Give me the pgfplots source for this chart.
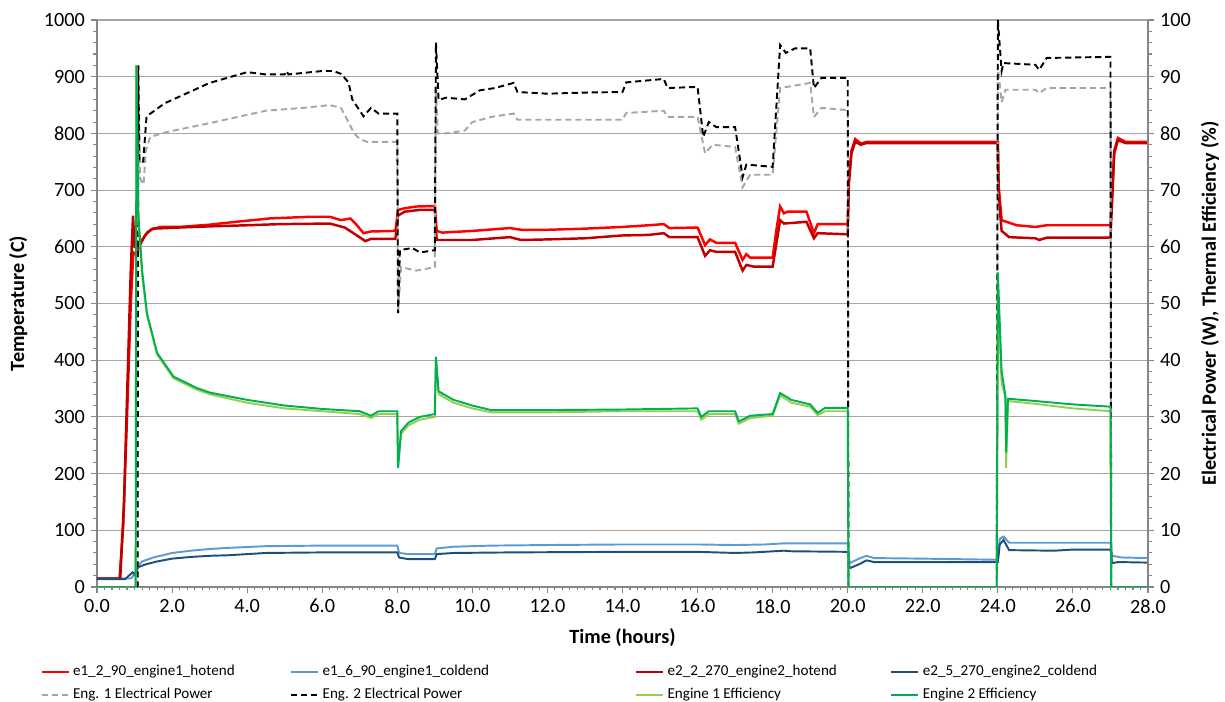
\documentclass[border=0pt]{standalone}
\usepackage{fontspec}
\setmainfont{Carlito}
\usepackage{pgfplots}
\pgfplotsset{compat=1.18}

\definecolor{hotA}{HTML}{FF0000}
\definecolor{hotB}{HTML}{C00000}
\definecolor{coldA}{HTML}{5B9BD5}
\definecolor{coldB}{HTML}{1F4E79}
\definecolor{powA}{HTML}{A6A6A6}
\definecolor{effA}{HTML}{92D050}
\definecolor{effB}{HTML}{00B050}
\definecolor{axgray}{HTML}{868686}
\definecolor{gridgray}{HTML}{A6A6A6}

\pgfplotsset{
  base/.style={
    at={(0,0)}, anchor=south west,
    scale only axis, width=21.02cm, height=11.34cm,
    xmin=0, xmax=28,
    tick align=outside,
    major tick length=0.12cm, minor tick length=0.07cm,
    axis line style={axgray, line width=0.6pt},
    tick style={axgray, line width=0.6pt},
    ticklabel style={font=\fontsize{11.5}{13}\selectfont},
    label style={font=\bfseries\fontsize{11.5}{13}\selectfont},
    /pgf/number format/assume math mode=true,
    /pgf/number format/1000 sep={},
  },
}

\begin{document}
\begin{tikzpicture}
% temperatures, left axis
\begin{axis}[base,
  axis x line*=bottom, axis y line*=left,
  ymin=0, ymax=1000,
  xtick={0,2,4,6,8,10,12,14,16,18,20,22,24,26,28}, minor x tick num=9,
  ytick={0,100,200,300,400,500,600,700,800,900,1000}, minor y tick num=4,
  xticklabel style={/pgf/number format/.cd, fixed, fixed zerofill, precision=1},
  ymajorgrids, major grid style={gridgray, line width=0.6pt},
  xlabel={Time (hours)}, ylabel={Temperature (C)},
  xlabel style={at={(axis description cs:0.5,-0.09)}, anchor=center},
  ylabel style={at={(axis description cs:-0.075,0.5)}, anchor=center},
]
\addplot[hotA, line width=1.4pt] coordinates {
(0,15)(0.6,15)(0.7,110)(0.8,300)(0.9,500)(0.97,590)(1.05,585)(1.15,604)(1.3,622)(1.45,631)
(1.7,635)(2.2,635)(3.0,639)(3.55,643)(4.6,650)(5.7,653)(6.2,653)(6.5,647)(6.75,650)(6.9,640)
(7.1,624)(7.3,627)(7.95,628)(8.02,665)(8.2,668)(8.5,671)(9.0,672)(9.05,628)(9.2,625)(10.0,628)
(11.0,633)(11.3,630)(12.0,630)(13.0,632)(14.0,635)(14.7,638)(15.1,640)(15.25,633)(16.0,634)
(16.2,603)(16.33,613)(16.5,607)(17.0,607)(17.2,577)(17.3,587)(17.4,581)(18.0,581)(18.1,630)
(18.2,671)(18.3,659)(18.4,662)(18.9,662)(19.1,624)(19.2,640)(20.0,640)(20.03,720)(20.1,770)
(20.2,790)(20.35,782)(20.5,785)(24.0,785)(24.02,709)(24.1,647)(24.5,638)(25.0,635)(25.3,638)
(27.0,638)(27.05,700)(27.1,770)(27.2,792)(27.4,785)(28.0,785)};
\addplot[coldA, line width=1.1pt] coordinates {
(0,15)(0.9,15)(1.0,22)(1.1,38)(1.2,45)(1.5,52)(2.0,60)(2.5,64)(3.0,67)(3.5,69)(4.5,72)(6,73)
(8.0,73)(8.05,60)(8.3,58)(9.0,58)(9.05,68)(9.5,71)(10.5,73)(12,74)(14,75)(16,75)(17,74)
(17.8,75)(18.3,77)(20.0,77)(20.05,42)(20.3,50)(20.5,55)(20.7,51)(22,50)(24.0,48)(24.05,85)
(24.15,89)(24.3,78)(27.0,78)(27.05,55)(27.3,52)(28,51)};
\addplot[hotB, line width=1.4pt] coordinates {
(0,15)(0.62,15)(0.72,150)(0.82,380)(0.9,560)(0.96,655)(1.0,600)(1.1,598)(1.2,612)(1.35,626)
(1.5,632)(2.2,634)(3.0,636)(4.0,638)(4.9,640)(6.2,641)(6.6,634)(6.9,621)(7.15,610)(7.3,614)
(7.95,614)(8.02,655)(8.2,662)(8.6,665)(9.0,665)(9.05,612)(10,612)(11,617)(11.3,612)(12,613)
(13,615)(14,620)(14.7,621)(15.1,624)(15.25,617)(16,617)(16.2,584)(16.33,594)(16.5,591)
(17.0,591)(17.2,558)(17.3,568)(17.5,565)(18.0,565)(18.2,647)(18.3,641)(18.9,644)(19.1,615)
(19.2,624)(20.0,622)(20.03,710)(20.1,765)(20.2,785)(20.35,780)(20.5,783)(24.0,783)(24.02,690)
(24.1,628)(24.3,617)(25.0,615)(25.1,612)(25.3,616)(27.0,616)(27.05,690)(27.1,765)(27.2,788)
(27.4,783)(28,783)};
\addplot[coldB, line width=1.1pt] coordinates {
(0,14)(0.75,14)(0.95,26)(1.0,22)(1.1,35)(1.3,40)(1.6,45)(2.0,50)(2.5,53)(3.0,55)(3.5,56)
(4.5,60)(6,61)(8,61)(8.05,52)(8.3,49)(9,49)(9.05,58)(9.5,60)(11,61)(14,62)(16,62)(17.0,60)
(17.5,61)(18.3,64)(18.5,63)(20.0,62)(20.05,33)(20.3,40)(20.5,47)(20.7,44)(24.0,44)(24.05,75)
(24.15,83)(24.3,65)(25.5,64)(26,66)(27,66)(27.05,42)(27.2,44)(28,43)};
\end{axis}
% power and efficiency, right axis
\begin{axis}[base,
  axis x line=none, axis y line*=right,
  ymin=0, ymax=100,
  ytick={0,10,20,30,40,50,60,70,80,90,100}, minor y tick num=4,
  ylabel={Electrical Power (W), Thermal Efficiency (\%)},
  ylabel style={at={(axis description cs:1.059,0.5)}, anchor=center},
  legend columns=4,
  legend cell align=left,
  legend image code/.code={\draw[#1] (0cm,0cm) -- (0.54cm,0cm);},
  legend style={at={(axis description cs:-0.059,-0.125)}, anchor=north west,
    draw=none, fill=none, font=\fontsize{8.6}{10}\selectfont,
    /tikz/column 2/.style={column sep=1.04cm},
    /tikz/column 4/.style={column sep=2.85cm},
    /tikz/column 6/.style={column sep=1.0cm},
    row sep=1.5pt},
]
\addlegendimage{hotA, line width=1.1pt}
\addlegendentry{e1\_2\_90\_engine1\_hotend}
\addlegendimage{coldA, line width=1.1pt}
\addlegendentry{e1\_6\_90\_engine1\_coldend}
\addlegendimage{hotB, line width=1.1pt}
\addlegendentry{e2\_2\_270\_engine2\_hotend}
\addlegendimage{coldB, line width=1.1pt}
\addlegendentry{e2\_5\_270\_engine2\_coldend}
\addplot[powA, line width=1.1pt, dash pattern=on 3.5pt off 2.2pt] coordinates {
(0,0)(1.08,0)(1.1,90)(1.15,72)(1.24,71)(1.3,77)(1.42,79.4)(1.9,80.3)(3.0,81.8)(4.5,84)
(5.5,84.5)(6.2,85)(6.5,84.5)(6.7,82)(6.85,80)(7.0,79)(7.2,78.5)(8.0,78.5)(8.02,48)(8.1,56.4)
(8.5,55.8)(9.0,56.4)(9.03,88)(9.08,80)(9.3,80)(9.8,80.5)(10.0,82)(10.5,82.9)(11.1,83.5)
(11.2,82.4)(14,82.4)(14.1,83.6)(15.1,84)(15.2,82.9)(16,82.9)(16.2,76.5)(16.4,78)(17.0,77.6)
(17.2,70.5)(17.4,72.7)(18.0,72.7)(18.2,88.0)(19.0,88.9)(19.1,82.9)(19.3,84.5)(20.0,84.1)
(20.02,0)(23.97,0)(24.0,92)(24.1,85.5)(24.2,87.7)(25.0,87.7)(25.1,87.1)(25.3,88)(27.0,88)
(27.02,0)(28,0)};
\addlegendentry{Eng. 1 Electrical Power}
\addplot[black, line width=1.1pt, dash pattern=on 3.5pt off 2.2pt] coordinates {
(0,0)(1.08,0)(1.1,92)(1.13,75)(1.23,75)(1.32,83)(1.8,85.3)(3.0,88.9)(4.0,90.8)(4.5,90.4)
(5.0,90.4)(5.05,91)(5.1,90.4)(6.0,91)(6.3,91)(6.5,90.5)(6.7,89)(6.8,86)(7.0,84)(7.1,83)
(7.3,84.5)(7.5,83.5)(8.0,83.5)(8.02,48.3)(8.07,59.4)(8.4,59.8)(8.6,59)(9.0,59.4)(9.03,96)
(9.1,85.9)(9.3,86.3)(9.8,86)(10.2,87.6)(10.6,88)(11.1,88.9)(11.2,87.3)(12,87)(13,87.2)(14,87.3)
(14.1,89)(15.1,89.6)(15.2,88)(16.0,88.2)(16.15,79.4)(16.3,82)(16.5,81.1)(17.0,81.1)(17.2,72.3)
(17.3,74.5)(18.0,74.1)(18.2,95.6)(18.35,94.2)(18.6,95)(19.0,95)(19.1,88)(19.3,89.8)(20.0,89.8)
(20.02,0)(23.97,0)(24.0,100)(24.1,91)(24.15,92.4)(25.0,92.1)(25.1,91.2)(25.3,93.3)(27.0,93.5)
(27.02,0)(28,0)};
\addlegendentry{Eng. 2 Electrical Power}
\addplot[effA, line width=1.1pt] coordinates {
(0,0)(1.03,0)(1.05,92)(1.1,65)(1.2,55)(1.33,48)(1.6,41)(2.04,36.8)(2.66,34.8)(3,34)(4,32.5)
(5,31.5)(6,31)(7,30.5)(7.3,29.8)(7.5,30.5)(8.0,30.5)(8.02,21)(8.1,27)(8.3,28.5)(8.6,29.5)(9,30)
(9.03,40)(9.1,34)(9.5,32.5)(10,31.5)(10.5,30.8)(12,30.8)(14,31)(16,31)(16.1,29.5)(16.3,30.5)
(17,30.5)(17.1,28.8)(17.4,29.8)(18,30.2)(18.2,33.8)(18.5,32.5)(19,31.8)(19.2,30.3)(19.4,31)
(20,31)(20.02,0)(23.97,0)(24.0,50)(24.1,36)(24.2,33.5)(24.22,21)(24.27,32.8)(25,32.3)(26,31.5)
(27,31)(27.02,0)(28,0)};
\addlegendentry{Engine 1 Efficiency}
\addplot[effB, line width=1.1pt] coordinates {
(0,0)(1.03,0)(1.05,92)(1.1,66)(1.2,56)(1.33,48.3)(1.6,41.3)(2.04,37.1)(2.66,35.1)(3,34.3)(4,33)
(5,32)(6,31.4)(7,31)(7.3,30.2)(7.5,31)(8,31)(8.02,21)(8.1,27.5)(8.3,29)(8.6,30)(9,30.5)
(9.03,40.6)(9.1,34.5)(9.5,33)(10,32)(10.5,31.2)(12,31.2)(14,31.3)(16,31.5)(16.1,30)(16.3,31)
(17,31)(17.1,29.2)(17.4,30.2)(18,30.5)(18.2,34.2)(18.5,33)(19,32.2)(19.2,30.7)(19.4,31.6)
(20,31.6)(20.02,0)(23.97,0)(24.0,55.5)(24.1,38)(24.2,33.8)(24.22,23.8)(24.27,33.2)(25,32.8)
(26,32.2)(27,31.8)(27.02,0)(28,0)};
\addlegendentry{Engine 2 Efficiency}
\end{axis}
\pgfresetboundingbox
\path (-1.94,-2.3) rectangle (22.56,11.74);
\end{tikzpicture}
\end{document}
